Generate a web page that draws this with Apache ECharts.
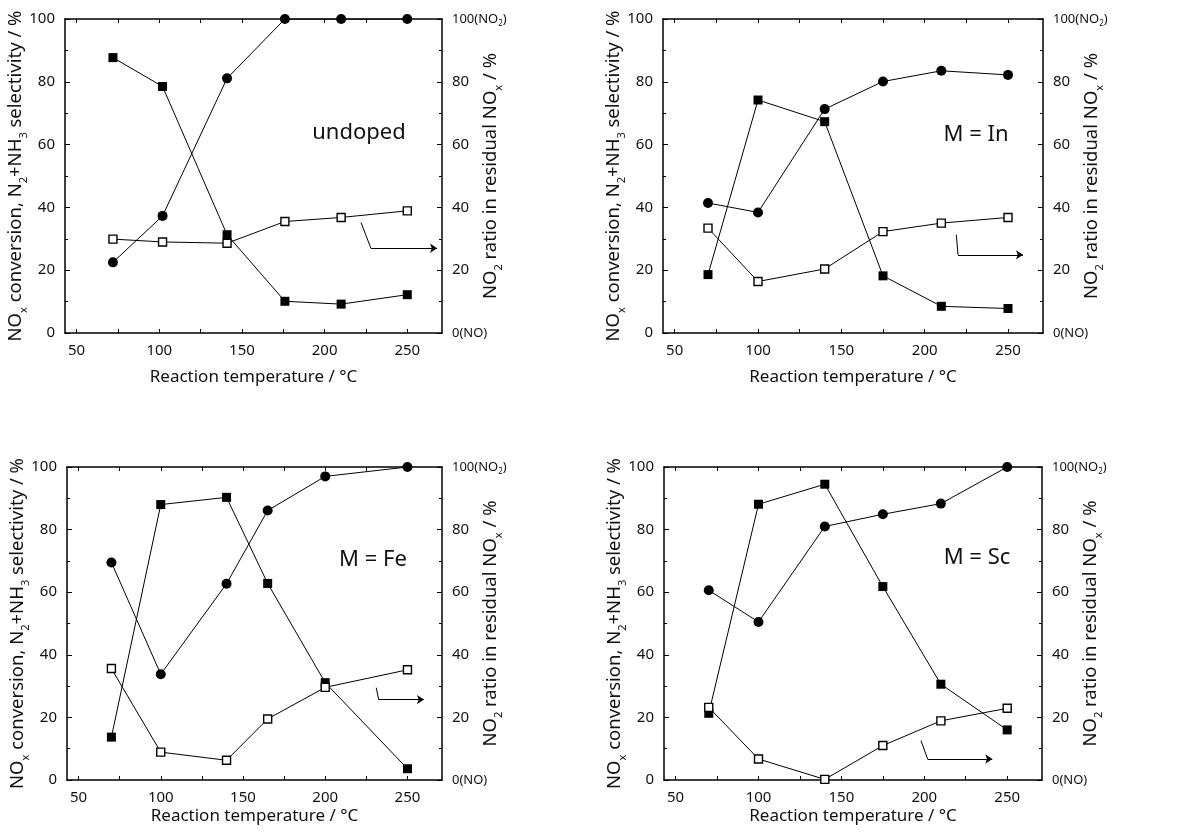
<!DOCTYPE html>
<html lang="en">
<head>
<meta charset="UTF-8">
<title>NOx conversion vs temperature</title>
<script src="https://cdn.jsdelivr.net/npm/echarts@6/dist/echarts.min.js"></script>
<style>
  html, body { margin: 0; padding: 0; background: #fff; }
  #main { width: 1186px; height: 833px; }
</style>
</head>
<body>
<div id="main"></div>
<script>
// data (x: reaction temperature / °C)
var tempUndoped = [72, 102, 141, 176, 210, 250];
var convUndoped = [22.5, 37.3, 81.1, 100, 100, 100];     // filled circles
var selUndoped  = [87.7, 78.5, 31.3, 10.1, 9.2, 12.2];   // filled squares
var no2Undoped  = [29.9, 29.0, 28.6, 35.5, 36.8, 38.9];  // open squares (right axis)

var tempIn = [70, 100, 140, 175, 210, 250];
var convIn = [41.4, 38.4, 71.3, 80.1, 83.5, 82.2];
var selIn  = [18.6, 74.2, 67.3, 18.2, 8.5, 7.8];
var no2In  = [33.4, 16.4, 20.4, 32.3, 35.0, 36.8];

var tempFe = [70, 100, 140, 165, 200, 250];
var convFe = [69.5, 33.8, 62.7, 86.1, 97.0, 100];
var selFe  = [13.7, 88.0, 90.3, 62.8, 31.1, 3.6];
var no2Fe  = [35.6, 8.9, 6.3, 19.5, 29.6, 35.2];

var tempSc = [70, 100, 140, 175, 210, 250];
var convSc = [60.6, 50.5, 81.0, 84.9, 88.3, 100];
var selSc  = [21.3, 88.1, 94.5, 61.8, 30.6, 16.0];
var no2Sc  = [23.2, 6.7, 0.2, 11.0, 18.9, 22.9];

var panelNames = ['undoped', 'M = In', 'M = Fe', 'M = Sc'];
var xLabelValues = [50, 100, 150, 200, 250];
var xTickValues = [50, 75, 100, 125, 150, 175, 200, 225, 250];

// arrows pointing to the right axis, in data coordinates
var arrowUndoped = [[222, 35.2], [228, 27], [268, 27]];
var arrowIn = [[219, 31.3], [220, 24.9], [259, 24.9]];
var arrowFe = [[231, 29.5], [232.5, 25.7], [260, 25.7]];
var arrowSc = [[198, 12.6], [202, 6.7], [241, 6.7]];

var myChart = echarts.init(document.getElementById('main'));

var FONT = '"Noto Sans", "DejaVu Sans", sans-serif';
var grids = [
    {left: 65, top: 19, width: 377, height: 314},
    {left: 663, top: 19, width: 380, height: 314},
    {left: 67, top: 467, width: 375, height: 313},
    {left: 664, top: 467, width: 378, height: 313}
];
var labelPos = [[359, 133], [976, 135], [373, 560], [977, 558]];
var xNameGap = [36, 36, 28, 28];

var nameRich = {
    t: {fontSize: 18.5, fontFamily: FONT, color: '#111', lineHeight: 26},
    s: {fontSize: 11, fontFamily: FONT, color: '#111', lineHeight: 26, verticalAlign: 'bottom'}
};
var tickRich = {
    n: {fontSize: 15, fontFamily: FONT, color: '#111', lineHeight: 18},
    t: {fontSize: 13, fontFamily: FONT, color: '#111', lineHeight: 18},
    s: {fontSize: 8, fontFamily: FONT, color: '#111', lineHeight: 18, verticalAlign: 'bottom'}
};

var xAxes = [], yAxes = [], series = [];
var lineBlack = {color: '#000', width: 1.5};

function zip(xs, ys) {
    return xs.map(function (x, k) { return [x, ys[k]]; });
}

function addPanel(i, temps, conv, sel, no2, arrow) {
    xAxes.push({
        gridIndex: i, type: 'value', min: 43, max: 271,
        name: 'Reaction temperature / °C', nameLocation: 'middle', nameGap: xNameGap[i],
        nameMoveOverlap: false,
        nameTextStyle: {fontSize: 17, fontFamily: FONT, color: '#111'},
        axisLine: {onZero: false, lineStyle: lineBlack},
        axisTick: {inside: true, length: 4, customValues: xTickValues, lineStyle: {color: '#000'}},
        axisLabel: {customValues: xLabelValues, margin: 10, fontSize: 15, fontFamily: FONT, color: '#111'},
        splitLine: {show: false}
    });
    xAxes.push({
        gridIndex: i, type: 'value', min: 43, max: 271, position: 'top',
        axisLine: {onZero: false, lineStyle: lineBlack},
        axisTick: {inside: true, length: 4, customValues: xTickValues, lineStyle: {color: '#000'}},
        axisLabel: {show: false},
        splitLine: {show: false}
    });
    yAxes.push({
        gridIndex: i, type: 'value', min: 0, max: 100, interval: 20,
        name: '{t|NO}{s|x}{t| conversion, N}{s|2}{t|+NH}{s|3}{t| selectivity / %}',
        nameLocation: 'middle', nameGap: 36, nameRotate: 90, nameMoveOverlap: false,
        nameTextStyle: {rich: nameRich},
        axisLine: {onZero: false, lineStyle: lineBlack},
        axisTick: {inside: true, length: 5, lineStyle: {color: '#000'}},
        minorTick: {show: true, splitNumber: 2, length: 3, lineStyle: {color: '#000'}},
        axisLabel: {margin: 10, fontSize: 15, fontFamily: FONT, color: '#111'},
        splitLine: {show: false}
    });
    yAxes.push({
        gridIndex: i, type: 'value', min: 0, max: 100, interval: 20, position: 'right',
        name: '{t|NO}{s|2}{t| ratio in residual NO}{s|x}{t| / %}',
        nameLocation: 'middle', nameGap: 36, nameRotate: 90, nameMoveOverlap: false,
        nameTextStyle: {rich: nameRich},
        axisLine: {onZero: false, lineStyle: lineBlack},
        axisTick: {inside: true, length: 5, lineStyle: {color: '#000'}},
        minorTick: {show: true, splitNumber: 2, length: 3, lineStyle: {color: '#000'}},
        axisLabel: {
            margin: 10, rich: tickRich,
            formatter: function (v) {
                if (v === 0) return '{t|0(NO)}';
                if (v === 100) return '{t|100(NO}{s|2}{t|)}';
                return '{n|' + v + '}';
            }
        },
        splitLine: {show: false}
    });
    var xi = i * 2, yi = i * 2;
    series.push({
        name: 'N2+NH3 selectivity', type: 'line', xAxisIndex: xi, yAxisIndex: yi,
        data: zip(temps, sel), symbol: 'rect', symbolSize: 9,
        lineStyle: {color: '#000', width: 1}, itemStyle: {color: '#000'}
    });
    series.push({
        name: 'NOx conversion', type: 'line', xAxisIndex: xi, yAxisIndex: yi,
        data: zip(temps, conv), symbol: 'circle', symbolSize: 10,
        lineStyle: {color: '#000', width: 1}, itemStyle: {color: '#000'}
    });
    series.push({
        name: 'NO2 ratio', type: 'line', xAxisIndex: xi, yAxisIndex: yi + 1,
        data: zip(temps, no2), symbol: 'rect', symbolSize: 8,
        lineStyle: {color: '#000', width: 1},
        itemStyle: {color: '#fff', borderColor: '#000', borderWidth: 1.4},
        markLine: {
            silent: true, animation: false,
            lineStyle: {color: '#000', width: 1, type: 'solid'},
            label: {show: false},
            symbolSize: 7,
            data: [
                [{coord: arrow[0], symbol: 'none'}, {coord: arrow[1], symbol: 'none'}],
                [{coord: arrow[1], symbol: 'none'}, {coord: arrow[2], symbol: 'arrow'}]
            ]
        }
    });
}

addPanel(0, tempUndoped, convUndoped, selUndoped, no2Undoped, arrowUndoped);
addPanel(1, tempIn, convIn, selIn, no2In, arrowIn);
addPanel(2, tempFe, convFe, selFe, no2Fe, arrowFe);
addPanel(3, tempSc, convSc, selSc, no2Sc, arrowSc);

var option = {
    backgroundColor: '#fff',
    animation: false,
    grid: grids,
    xAxis: xAxes,
    yAxis: yAxes,
    series: series,
    graphic: panelNames.map(function (t, i) {
        return {
            type: 'text', x: labelPos[i][0], y: labelPos[i][1],
            style: {text: t, font: '22px ' + FONT, fill: '#111', align: 'center', verticalAlign: 'middle'}
        };
    })
};
myChart.setOption(option);
</script>
</body>
</html>
